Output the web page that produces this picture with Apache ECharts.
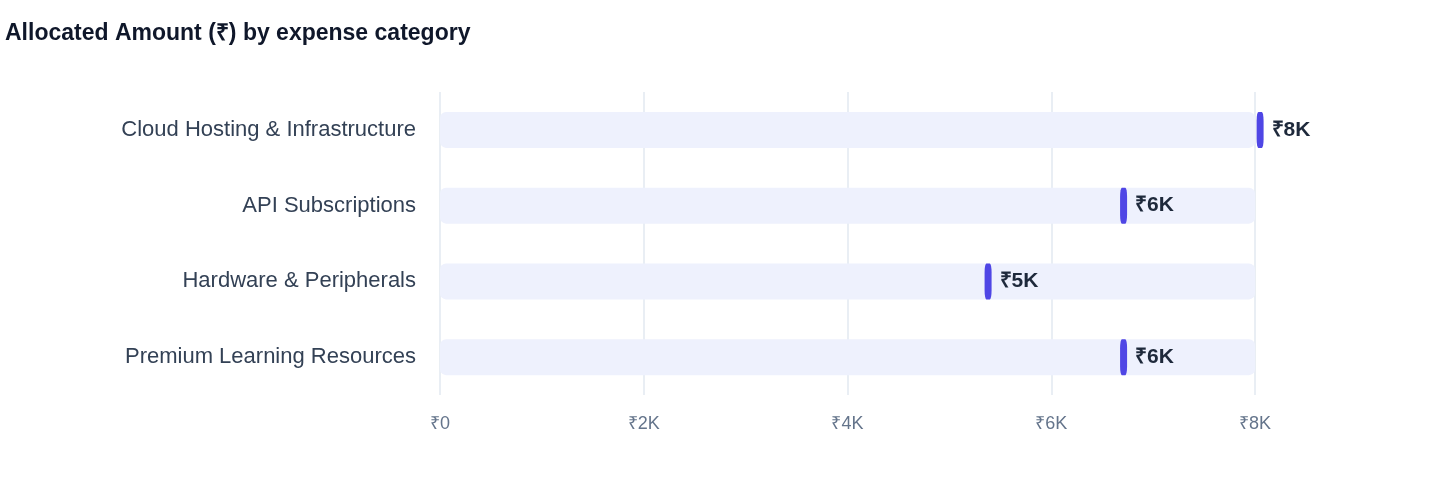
<!DOCTYPE html>
<html><head><meta charset="utf-8">
<script src="https://cdn.jsdelivr.net/npm/echarts@6/dist/echarts.min.js"></script>
<style>html,body{margin:0;padding:0;background:#fff}#c{width:1440px;height:484px}</style>
</head><body><div id="c"></div>
<script>
const categories = ['Cloud Hosting & Infrastructure','API Subscriptions','Hardware & Peripherals','Premium Learning Resources'];
const values = [8050, 6710, 5380, 6710];
const valueLabels = ['₹8K','₹6K','₹5K','₹6K'];
const trackMax = 8000;
const tickLabels = {0:'₹0',2000:'₹2K',4000:'₹4K',6000:'₹6K',8000:'₹8K'};

const F = 'Liberation Sans, Arial, sans-serif';
const chart = echarts.init(document.getElementById('c'));
chart.setOption({
  animation:false,
  title:{text:'Allocated Amount (₹) by expense category',left:0,top:17,textStyle:{fontFamily:F,fontSize:23,fontWeight:'bold',color:'#0f172a'}},
  grid:{left:440,right:185,top:92,bottom:89},
  xAxis:{type:'value',min:0,max:8000,interval:2000,
    axisLine:{show:false},axisTick:{show:false},
    splitLine:{lineStyle:{color:'#e2e8f0',width:1.5}},
    axisLabel:{formatter:v=>tickLabels[v],color:'#64748b',fontFamily:F,fontSize:18,margin:20}},
  yAxis:{type:'category',inverse:true,data:categories,
    axisLine:{show:false},axisTick:{show:false},
    axisLabel:{color:'#334155',fontFamily:F,fontSize:22,margin:24}},
  series:[
    {type:'bar',data:categories.map(()=>trackMax),barWidth:36,silent:true,
     itemStyle:{color:'#eef1fd',borderRadius:6}},
    {type:'scatter',data:values,clip:false,symbol:'roundRect',symbolSize:[7,36],
     itemStyle:{color:'#4f46e5',opacity:1},
     label:{show:true,position:'right',distance:8,formatter:p=>valueLabels[p.dataIndex],
       color:'#1e293b',fontFamily:F,fontSize:21,fontWeight:'bold'}}
  ]
});
</script></body></html>
